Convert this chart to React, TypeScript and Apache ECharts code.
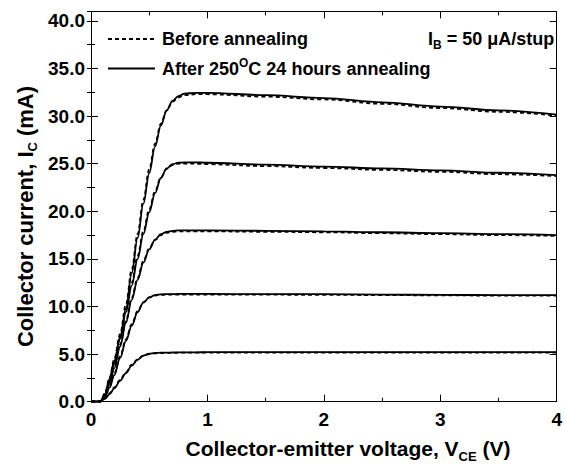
import React, { useEffect, useRef } from 'react';
import * as echarts from 'echarts';

const FONT = '"Liberation Sans", Arial, Helvetica, sans-serif';

// Collector-emitter voltage samples (V)
const V = [0, 0.05, 0.08, 0.12, 0.16, 0.2, 0.25, 0.3, 0.35, 0.4, 0.45, 0.5, 0.55, 0.6, 0.65, 0.7, 0.75, 0.8, 0.9, 1.0, 1.5, 2.0, 2.5, 3.0, 3.5, 4.0];

// After 250°C 24 hours annealing (solid), collector current (mA)
const after1 = [0, 0, 0.02, 0.3, 0.8, 1.4, 2.2, 3.0, 3.8, 4.4, 4.85, 5.05, 5.12, 5.15, 5.16, 5.17, 5.18, 5.18, 5.19, 5.2, 5.2, 5.2, 5.2, 5.2, 5.2, 5.2];
const after2 = [0, 0, 0.02, 0.5, 1.5, 2.8, 4.6, 6.4, 8.0, 9.4, 10.4, 10.95, 11.2, 11.28, 11.3, 11.3, 11.32, 11.32, 11.32, 11.32, 11.3, 11.3, 11.25, 11.22, 11.2, 11.2];
const after3 = [0, 0, 0.02, 0.6, 1.9, 3.5, 5.8, 8.3, 10.7, 12.8, 14.6, 16.0, 17.0, 17.6, 17.85, 17.95, 18.0, 18.0, 18.0, 18.0, 17.95, 17.9, 17.8, 17.7, 17.6, 17.5];
const after4 = [0, 0, 0.02, 0.7, 2.2, 4.0, 6.6, 9.4, 12.2, 15.0, 17.6, 19.9, 21.9, 23.5, 24.5, 24.95, 25.1, 25.15, 25.15, 25.1, 24.9, 24.7, 24.5, 24.3, 24.05, 23.8];
const after5 = [0, 0, 0.02, 0.8, 2.4, 4.3, 6.8, 9.8, 13.5, 17.2, 20.8, 24.0, 26.8, 29.0, 30.6, 31.6, 32.1, 32.35, 32.45, 32.45, 32.2, 31.9, 31.45, 31.0, 30.6, 30.15];

// Before annealing (dotted), collector current (mA)
const before1 = [0, 0, 0.03, 0.35, 0.9, 1.5, 2.3, 3.1, 3.9, 4.45, 4.85, 5.0, 5.08, 5.1, 5.12, 5.13, 5.14, 5.15, 5.15, 5.16, 5.16, 5.16, 5.16, 5.16, 5.16, 5.16];
const before2 = [0, 0, 0.03, 0.6, 1.6, 2.95, 4.75, 6.55, 8.15, 9.5, 10.45, 10.95, 11.15, 11.22, 11.24, 11.25, 11.26, 11.26, 11.26, 11.26, 11.24, 11.23, 11.2, 11.17, 11.15, 11.14];
const before3 = [0, 0, 0.03, 0.7, 2.0, 3.7, 6.0, 8.5, 10.9, 13.0, 14.8, 16.1, 17.0, 17.5, 17.75, 17.85, 17.88, 17.9, 17.9, 17.9, 17.85, 17.8, 17.7, 17.6, 17.5, 17.42];
const before4 = [0, 0, 0.03, 0.8, 2.35, 4.2, 6.85, 9.7, 12.5, 15.3, 17.9, 20.2, 22.1, 23.55, 24.45, 24.85, 25.0, 25.0, 25.0, 24.95, 24.75, 24.55, 24.35, 24.15, 23.9, 23.7];
const before5 = [0, 0, 0.03, 0.9, 2.55, 4.5, 7.1, 10.2, 13.9, 17.6, 21.2, 24.4, 27.1, 29.2, 30.6, 31.5, 31.95, 32.2, 32.3, 32.3, 32.05, 31.75, 31.3, 30.85, 30.45, 30.05];

const afterSets = [after1, after2, after3, after4, after5];
const beforeSets = [before1, before2, before3, before4, before5];

const X_MIN = 0;
const X_MAX = 4;
const Y_MIN = 0;
const Y_MAX = 41;

const legendBefore = 'Before annealing';
const legendAfter = 'After 250{sup|O}C 24 hours annealing';
const noteText = 'I{sub|B}{a| = 50 μA/stup}';
const xTitle = '{a|Collector-emitter voltage, V}{s|CE}{a| (V)}';
const yTitle = '{a|Collector current, I}{s|C}{a| (mA)}';

export default function App() {
  const ref = useRef<HTMLDivElement>(null);

  useEffect(() => {
    if (!ref.current) return;
    const chart = echarts.init(ref.current, undefined, { renderer: 'svg' });

    const pair = (ys: number[]) => V.map((v, i) => [v, ys[i]]);

    const series: any[] = [];
    afterSets.forEach((ys, k) => {
      series.push({
        type: 'line',
        name: 'after' + (k + 1),
        data: pair(ys),
        showSymbol: false,
        smooth: 0.35,
        smoothMonotone: 'x',
        lineStyle: { color: '#000', width: 1.8, type: 'solid' },
        z: 2,
      });
    });
    beforeSets.forEach((ys, k) => {
      series.push({
        type: 'line',
        name: 'before' + (k + 1),
        data: pair(ys),
        showSymbol: false,
        smooth: 0.35,
        smoothMonotone: 'x',
        lineStyle: { color: '#000', width: 1.8, type: [4, 3] },
        z: 3,
      });
    });

    const axisLine = { show: true, onZero: false, lineStyle: { color: '#000', width: 1 } };
    const tickStyle = { color: '#000', width: 1 };

    const xBase = {
      type: 'value',
      min: X_MIN,
      max: X_MAX,
      interval: 1,
      axisLine,
      axisTick: { show: true, inside: true, length: 7, lineStyle: tickStyle },
      minorTick: { show: true, splitNumber: 2, length: 4, lineStyle: tickStyle },
      splitLine: { show: false },
      minorSplitLine: { show: false },
    };

    const yMajor = (pos: 'left' | 'right', labels: boolean) => ({
      type: 'value',
      position: pos,
      min: Y_MIN,
      max: Y_MAX,
      interval: 5,
      axisLine,
      axisTick: { show: true, inside: true, length: 7, lineStyle: tickStyle },
      splitLine: { show: false },
      axisLabel: labels
        ? {
            show: true,
            margin: 6,
            color: '#000',
            fontSize: 19,
            fontWeight: 'bold',
            fontFamily: FONT,
            formatter: (v: number) => (v % 5 === 0 ? v.toFixed(1) : ''),
          }
        : { show: false },
    });
    const yMinor = (pos: 'left' | 'right') => ({
      type: 'value',
      position: pos,
      min: Y_MIN,
      max: Y_MAX,
      interval: 2.5,
      axisLine: { show: false },
      axisTick: { show: true, inside: true, length: 4, lineStyle: tickStyle },
      splitLine: { show: false },
      axisLabel: { show: false },
    });

    const mainFont = { fontWeight: 'bold', fontFamily: FONT, fill: '#000' };

    chart.setOption({
      animation: false,
      backgroundColor: '#fff',
      grid: { left: 91, right: 7, top: 11.4, bottom: 63.3, containLabel: false },
      xAxis: [
        {
          ...xBase,
          position: 'bottom',
          axisLabel: { show: true, margin: 8, color: '#000', fontSize: 19, fontWeight: 'bold', fontFamily: FONT },
        },
        { ...xBase, position: 'top', axisLabel: { show: false } },
      ],
      yAxis: [yMajor('left', true), yMinor('left'), yMajor('right', false), yMinor('right')],
      series,
      graphic: [
        {
          type: 'line',
          shape: { x1: 108, y1: 39, x2: 155, y2: 39 },
          style: { stroke: '#000', lineWidth: 1.8, lineDash: [4, 3] },
        },
        {
          type: 'text',
          x: 162,
          y: 39,
          style: { text: legendBefore, fontSize: 18, ...mainFont, verticalAlign: 'middle', align: 'left' },
        },
        {
          type: 'line',
          shape: { x1: 108, y1: 68.5, x2: 155, y2: 68.5 },
          style: { stroke: '#000', lineWidth: 1.8 },
        },
        {
          type: 'text',
          x: 162,
          y: 69,
          style: {
            text: legendAfter,
            fontSize: 18,
            lineHeight: 25,
            ...mainFont,
            verticalAlign: 'middle',
            align: 'left',
            rich: {
              sup: { fontSize: 12, lineHeight: 12, verticalAlign: 'top', fontWeight: 'bold', fontFamily: FONT, fill: '#000' },
            },
          },
        },
        {
          type: 'text',
          x: 428,
          y: 38.5,
          style: {
            text: noteText,
            fontSize: 18,
            lineHeight: 25,
            ...mainFont,
            verticalAlign: 'middle',
            align: 'left',
            rich: {
              a: { fontSize: 18, lineHeight: 25, fontWeight: 'bold', fontFamily: FONT, fill: '#000' },
              sub: { fontSize: 12, lineHeight: 12, verticalAlign: 'bottom', fontWeight: 'bold', fontFamily: FONT, fill: '#000' },
            },
          },
        },
        {
          type: 'text',
          x: 348,
          y: 448.5,
          style: {
            text: xTitle,
            ...mainFont,
            verticalAlign: 'middle',
            align: 'center',
            rich: {
              a: { fontSize: 21, lineHeight: 28, fontWeight: 'bold', fontFamily: FONT, fill: '#000' },
              s: { fontSize: 13, lineHeight: 13, verticalAlign: 'bottom', fontWeight: 'bold', fontFamily: FONT, fill: '#000' },
            },
          },
        },
        {
          type: 'text',
          x: 25.5,
          y: 216.5,
          rotation: Math.PI / 2,
          style: {
            text: yTitle,
            ...mainFont,
            verticalAlign: 'middle',
            align: 'center',
            rich: {
              a: { fontSize: 22, lineHeight: 27, fontWeight: 'bold', fontFamily: FONT, fill: '#000' },
              s: { fontSize: 13, lineHeight: 13, verticalAlign: 'bottom', fontWeight: 'bold', fontFamily: FONT, fill: '#000' },
            },
          },
        },
      ],
    });

    return () => chart.dispose();
  }, []);

  return <div ref={ref} style={{ position: 'absolute', left: 0, top: 0, width: 565, height: 465 }} />;
}
